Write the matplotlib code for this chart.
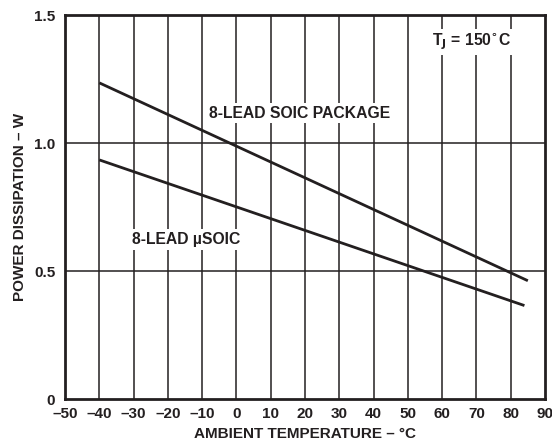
import matplotlib
matplotlib.use("Agg")
import matplotlib.pyplot as plt

plt.rcParams['font.family'] = ['Liberation Sans', 'DejaVu Sans']
plt.rcParams['font.weight'] = 'bold'

# Data
temp_soic = [-40, 85]
power_soic = [1.235, 0.462]
temp_usoic = [-40, 84]
power_usoic = [0.934, 0.365]

x_ticks = [-50, -40, -30, -20, -10, 0, 10, 20, 30, 40, 50, 60, 70, 80, 90]
x_labels = ['–50', '–40', '–30', '–20', '–10', '0', '10', '20', '30', '40', '50', '60', '70', '80', '90']
y_ticks = [0, 0.5, 1.0, 1.5]
y_labels = ['0', '0.5', '1.0', '1.5']

ink = '#231f20'

fig = plt.figure(figsize=(5.52, 4.44), dpi=100)
ax = fig.add_axes([65/552, 45/444, 480/552, 384/444])
ax.set_xlim(-50, 90)
ax.set_ylim(0, 1.5)

# grid
for x in x_ticks[1:-1]:
    ax.axvline(x, color=ink, lw=1.1, zorder=1)
for y in [0.5, 1.0]:
    ax.axhline(y, color=ink, lw=1.1, zorder=1)

ax.plot(temp_soic, power_soic, color=ink, lw=2.0, zorder=3, solid_capstyle='butt')
ax.plot(temp_usoic, power_usoic, color=ink, lw=2.0, zorder=3, solid_capstyle='butt')

box = dict(facecolor='white', edgecolor='none', pad=2)
ax.text(18.3, 1.117, '8-LEAD SOIC PACKAGE', ha='center', va='center', fontsize=11.3,
        fontweight='bold', color=ink, bbox=box, zorder=4)
ax.text(-30.5, 0.622, '8-LEAD µSOIC', ha='left', va='center', fontsize=11.3,
        fontweight='bold', color=ink, bbox=box, zorder=4)
ax.text(68.5, 1.395, r'T$_{\mathbf{J}}$ = 150$^{\circ}$C', ha='center', va='center', fontsize=11.3,
        fontweight='bold', color=ink, bbox=box, zorder=4)

ax.set_xticks(x_ticks)
ax.set_xticklabels(x_labels)
ax.set_yticks(y_ticks)
ax.set_yticklabels(y_labels)
ax.tick_params(length=0, labelsize=11, colors=ink, pad=6)
ax.tick_params(axis='y', pad=7)
for lab in ax.get_xticklabels() + ax.get_yticklabels():
    lab.set_fontweight('bold')

for s in ax.spines.values():
    s.set_linewidth(2)
    s.set_color(ink)

ax.set_xlabel('AMBIENT TEMPERATURE – °C', fontsize=11, fontweight='bold', color=ink, labelpad=4)
ax.set_ylabel('POWER DISSIPATION – W', fontsize=11, fontweight='bold', color=ink, labelpad=5)

fig.savefig('out.png', dpi=100)
